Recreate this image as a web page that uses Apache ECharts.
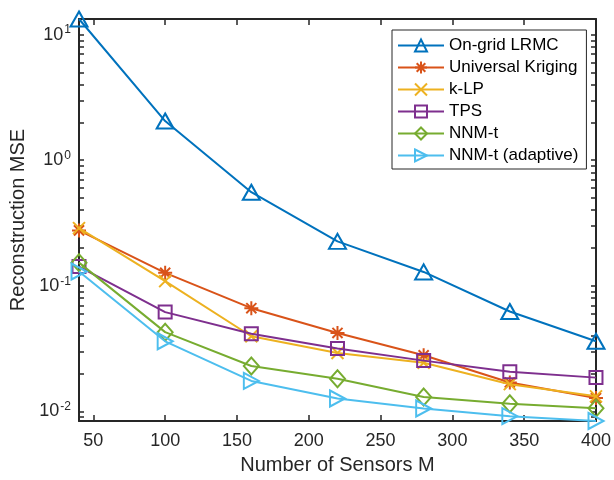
<!DOCTYPE html>
<html>
<head>
<meta charset="utf-8">
<script src="https://cdn.jsdelivr.net/npm/echarts@6/dist/echarts.min.js"></script>
<style>
  html, body { margin: 0; padding: 0; background: #fff; }
  #chart { width: 614px; height: 480px; }
</style>
</head>
<body>
<div id="chart"></div>
<script>
// Number of sensors M
const sensors = [40, 100, 160, 220, 280, 340, 400];

// Reconstruction MSE per method
const onGridLRMC   = [13.3, 2.05, 0.556, 0.226, 0.129, 0.0625, 0.0362];
const univKriging  = [0.276, 0.127, 0.0664, 0.0422, 0.0280, 0.0170, 0.0128];
const kLP          = [0.288, 0.109, 0.0397, 0.0292, 0.0244, 0.0165, 0.0132];
const tps          = [0.1425, 0.0618, 0.0416, 0.0317, 0.0254, 0.0207, 0.0186];
const nnmT         = [0.153, 0.0428, 0.0230, 0.0182, 0.01306, 0.0115, 0.01063];
const nnmTAdaptive = [0.130, 0.0362, 0.0175, 0.01268, 0.01056, 0.00918, 0.0084];

// Axis ticks and labels
const xTicks = [50, 100, 150, 200, 250, 300, 350, 400];
const yLabels = [0.01, 0.1, 1, 10];
const yTicks = [];
[0.001, 0.01, 0.1, 1, 10].forEach(d => {
  for (let k = 1; k <= 9; k++) yTicks.push(+(d * k).toPrecision(3));
});

const names = ['On-grid LRMC', 'Universal Kriging', 'k-LP', 'TPS', 'NNM-t', 'NNM-t (adaptive)'];
const seriesData = [onGridLRMC, univKriging, kLP, tps, nnmT, nnmTAdaptive];
const colors = ['#0072BD', '#D95319', '#EDB120', '#7E2F8E', '#77AC30', '#4DBEEE'];
const symbols = [
  'triangle',
  'path://M0,-1L0,1M-1,0L1,0M-0.72,-0.72L0.72,0.72M-0.72,0.72L0.72,-0.72',
  'path://M-1,-1L1,1M-1,1L1,-1',
  'rect',
  'diamond',
  'path://M0,0L10,5L0,10Z'
];
const symbolSizes = [[17, 15], 14, 12, 13, [15, 17], [15, 16]];

const axisColor = '#262626';
const fontFamily = '"Liberation Sans", Arial, Helvetica, sans-serif';
const xMin = 40, xMax = 400, yMin = 0.0084, yMax = 13.3;

const chart = echarts.init(document.getElementById('chart'), null, { renderer: 'canvas' });

const xAxisCommon = {
  type: 'value', min: xMin, max: xMax,
  axisLine: { show: true, onZero: false, lineStyle: { color: axisColor, width: 2 } },
  axisTick: { show: true, inside: true, length: 6, customValues: xTicks, lineStyle: { color: axisColor, width: 1.5 } },
  splitLine: { show: false }
};
const yAxisCommon = {
  type: 'log', logBase: 10, min: yMin, max: yMax,
  axisLine: { show: true, onZero: false, lineStyle: { color: axisColor, width: 2 } },
  axisTick: { show: true, inside: true, length: 5, customValues: yTicks, lineStyle: { color: axisColor, width: 1.5 } },
  splitLine: { show: false },
  minorTick: { show: false }
};

chart.setOption({
  animation: false,
  backgroundColor: '#fff',
  grid: { left: 79, right: 16, top: 19, bottom: 56, containLabel: false },
  xAxis: [
    Object.assign({}, xAxisCommon, {
      position: 'bottom',
      name: 'Number of Sensors M',
      nameLocation: 'middle',
      nameGap: 34,
      nameTextStyle: { fontSize: 20, color: axisColor, fontFamily },
      axisLabel: { customValues: xTicks, fontSize: 18, color: axisColor, fontFamily, margin: 11 }
    }),
    Object.assign({}, xAxisCommon, { position: 'top', axisLabel: { show: false } })
  ],
  yAxis: [
    Object.assign({}, yAxisCommon, {
      position: 'left',
      name: 'Reconstruction MSE',
      nameLocation: 'middle',
      nameGap: 46,
      nameTextStyle: { fontSize: 20, color: axisColor, fontFamily },
      axisLabel: {
        customValues: yLabels,
        margin: 8,
        color: axisColor,
        fontFamily,
        formatter: v => '{b|10}{s|' + Math.round(Math.log10(v)) + '}',
        rich: {
          b: { fontSize: 18, color: axisColor, fontFamily, lineHeight: 18 },
          s: { fontSize: 12, color: axisColor, fontFamily, lineHeight: 12, padding: [0, 0, 9, 1] }
        }
      }
    }),
    Object.assign({}, yAxisCommon, { position: 'right', axisLabel: { show: false } })
  ],
  legend: {
    orient: 'vertical',
    left: 392,
    top: 30,
    backgroundColor: '#fff',
    borderColor: axisColor,
    borderWidth: 1,
    borderRadius: 0,
    padding: [7, 8, 5, 5],
    itemGap: 5,
    itemWidth: 46,
    itemHeight: 15,
    textStyle: { fontSize: 17, color: '#000', fontFamily },
    data: names
  },
  series: names.map((name, i) => ({
    name,
    type: 'line',
    data: sensors.map((m, j) => [m, seriesData[i][j]]),
    symbol: symbols[i],
    symbolSize: symbolSizes[i],
    showAllSymbol: true,
    clip: false,
    lineStyle: { color: colors[i], width: 2 },
    itemStyle: { color: 'rgba(255,255,255,0)', borderColor: colors[i], borderWidth: 2 },
    emphasis: { disabled: true },
    z: 2 + i
  }))
});
</script>
</body>
</html>
